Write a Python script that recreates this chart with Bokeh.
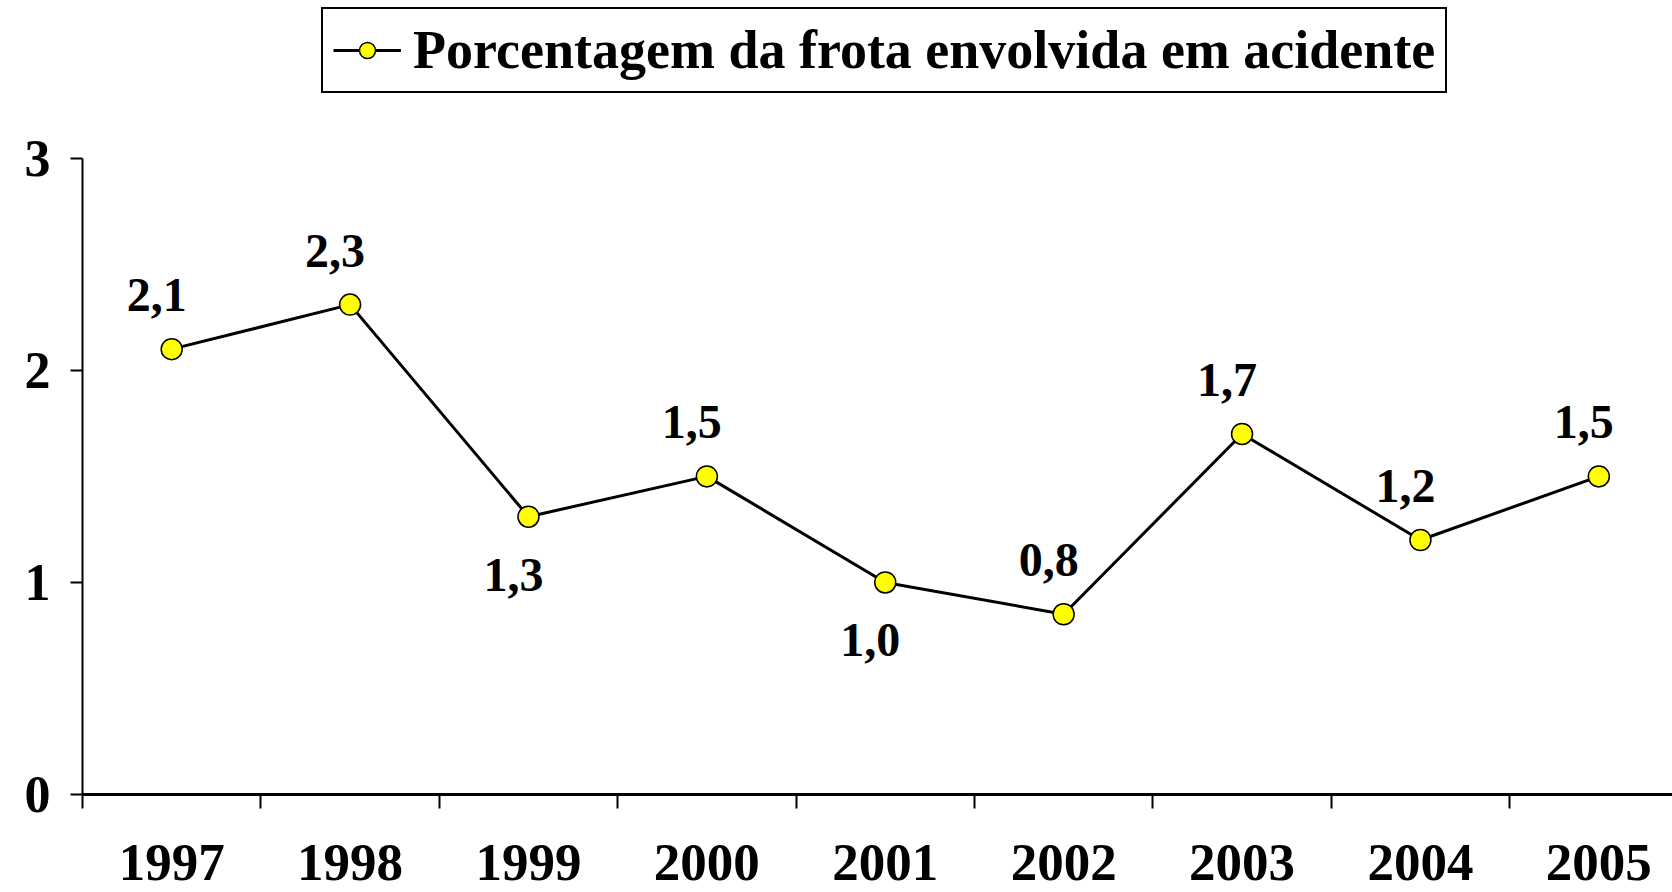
from bokeh.plotting import figure
from bokeh.models import (FixedTicker, Legend, LegendItem, ColumnDataSource, Range1d)
from bokeh.core.properties import value
from bokeh.embed import file_html
from bokeh.resources import INLINE

# ---- data ----
years = ["1997", "1998", "1999", "2000", "2001", "2002", "2003", "2004", "2005"]
percent = [2.1, 2.31, 1.31, 1.5, 1.0, 0.85, 1.7, 1.2, 1.5]
labels = ["2,1", "2,3", "1,3", "1,5", "1,0", "0,8", "1,7", "1,2", "1,5"]
label_below = ["1999", "2001"]
y_ticks = [0, 1, 2, 3]
series_name = "Porcentagem da frota envolvida em acidente"

FONT = "Liberation Serif"

xc = [i + 0.5 for i in range(len(years))]

p = figure(width=1672, height=892, output_backend="svg", toolbar_location=None,
           x_range=Range1d(0, 8.913), y_range=Range1d(0, 3.744),
           min_border_left=82, min_border_right=0, min_border_top=0, min_border_bottom=98)
p.outline_line_color = None
p.xgrid.visible = False
p.ygrid.visible = False
p.background_fill_color = "white"

# y axis
ya = p.yaxis[0]
ya.ticker = FixedTicker(ticks=y_ticks, minor_ticks=[])
ya.bounds = (0, 3)
ya.axis_line_width = 2
ya.major_tick_line_width = 2
ya.major_tick_out = 12
ya.major_tick_in = 0
ya.minor_tick_out = 0
ya.minor_tick_in = 0
ya.major_label_standoff = 20
ya.major_label_text_font = FONT
ya.major_label_text_font_style = "bold"
ya.major_label_text_font_size = "52px"
ya.major_label_text_color = "black"

# x axis (categories centred between boundary ticks)
xa = p.xaxis[0]
xa.ticker = FixedTicker(ticks=xc, minor_ticks=list(range(len(years) + 1)))
xa.major_label_overrides = {x: y for x, y in zip(xc, years)}
xa.axis_line_width = 3
xa.major_tick_out = 0
xa.major_tick_in = 0
xa.minor_tick_out = 14
xa.minor_tick_in = 0
xa.minor_tick_line_width = 2
xa.major_label_standoff = 36
xa.major_label_text_font = FONT
xa.major_label_text_font_style = "bold"
xa.major_label_text_font_size = "53px"
xa.major_label_text_color = "black"

src = ColumnDataSource(dict(x=xc, y=percent, lab=labels,
                            yoff=[58 if yr in label_below else -54 for yr in years]))

ln = p.line("x", "y", source=src, line_color="black", line_width=3)
sc = p.scatter("x", "y", source=src, size=21, fill_color="#FFFF00",
               line_color="black", line_width=1.5)

p.text("x", "y", text="lab", source=src, x_offset=-15, y_offset="yoff",
       text_font=value(FONT), text_font_style="bold", text_font_size="48px",
       text_align="center", text_baseline="middle", text_color="black")

legend = Legend(items=[LegendItem(label=series_name, renderers=[ln, sc])],
                location=(239, 701), orientation="horizontal")
legend.border_line_color = "black"
legend.border_line_alpha = 1
legend.border_line_width = 2
legend.padding = 10
legend.margin = 0
legend.spacing = 0
legend.glyph_width = 68
legend.glyph_height = 40
legend.label_standoff = 12
legend.label_text_font = FONT
legend.label_text_font_style = "bold"
legend.label_text_font_size = "54px"
legend.label_text_color = "black"
legend.label_text_baseline = "middle"
legend.background_fill_color = "white"
legend.background_fill_alpha = 1
p.add_layout(legend)

open("out.html", "w").write(file_html(p, INLINE))
